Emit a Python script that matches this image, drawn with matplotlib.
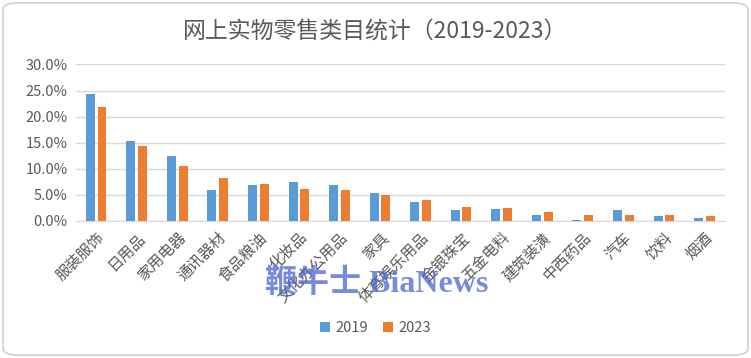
import matplotlib
matplotlib.use('Agg')
import matplotlib.pyplot as plt
from matplotlib.patches import FancyBboxPatch
import numpy as np

plt.rcParams['font.family'] = ['Noto Sans CJK SC', 'DejaVu Sans']

# data (share of online retail, %)
categories = ['服装服饰', '日用品', '家用电器', '通讯器材', '食品粮油', '化妆品',
              '文化办公用品', '家具', '体育娱乐用品', '金银珠宝', '五金电料',
              '建筑装潢', '中西药品', '汽车', '饮料', '烟酒']
share_2019 = [24.4, 15.3, 12.4, 5.9, 6.9, 7.4, 6.9, 5.3, 3.7, 2.0, 2.3, 1.2, 0.25, 2.1, 0.9, 0.6]
share_2023 = [21.9, 14.4, 10.5, 8.2, 7.0, 6.1, 5.9, 5.0, 4.0, 2.6, 2.5, 1.7, 1.2, 1.2, 1.2, 1.0]
years = ['2019', '2023']
yticks = [0, 5, 10, 15, 20, 25, 30]

blue = '#5B9BD5'
orange = '#ED7D31'
grey_txt = '#595959'
grid_c = '#D9D9D9'

fig = plt.figure(figsize=(7.51, 3.58), dpi=100)

# rounded chart border
border = FancyBboxPatch((0.004, 0.008), 0.992, 0.984,
                        boxstyle='round,pad=0,rounding_size=0.02',
                        transform=fig.transFigure, facecolor='none',
                        edgecolor='#D0D0D0', linewidth=1.2, zorder=-1)
fig.patches.append(border)

ax = fig.add_axes([0.101, 0.383, 0.864, 0.437])
x = np.arange(len(categories))
w = 0.22
ax.bar(x - 0.144, share_2019, width=w, color=blue, label=years[0], zorder=3)
ax.bar(x + 0.144, share_2023, width=w, color=orange, label=years[1], zorder=3)

ax.set_xlim(-0.5, len(categories) - 0.5)
ax.set_ylim(0, 30)
ax.set_yticks(yticks)
ax.set_yticklabels(['%.1f%%' % v for v in yticks], color=grey_txt, fontsize=10.5)
ax.yaxis.grid(True, color=grid_c, linewidth=1, zorder=0)
ax.set_axisbelow(True)
for s in ['top', 'right', 'left']:
    ax.spines[s].set_visible(False)
ax.spines['bottom'].set_color(grid_c)
ax.tick_params(axis='both', length=0)
ax.tick_params(axis='y', pad=6)

ax.set_xticks(x)
ax.set_xticklabels(categories, rotation=45, ha='right', va='top',
                   rotation_mode='anchor', color=grey_txt, fontsize=11)
ax.tick_params(axis='x', pad=6)
ax.patch.set_alpha(0)

fig.text(0.5, 0.91, '网上实物零售类目统计（2019-2023）', ha='center', va='center',
         fontsize=16.5, color=grey_txt)

# watermark
fig.text(0.501, 0.207, '鞭牛士 BiaNews', ha='center', va='center', fontsize=23,
         color='#4A63D0', alpha=0.75, family=['Liberation Serif', 'Noto Sans CJK SC'],
         fontweight='bold', zorder=10)

handles, labels = ax.get_legend_handles_labels()
fig.legend(handles, labels, loc='center', bbox_to_anchor=(0.5, 0.084), ncol=2,
           frameon=False, fontsize=10.5, labelcolor=grey_txt, handlelength=0.7,
           handleheight=0.7, handletextpad=0.4, columnspacing=1.0)

fig.savefig('out.png', dpi=100)
